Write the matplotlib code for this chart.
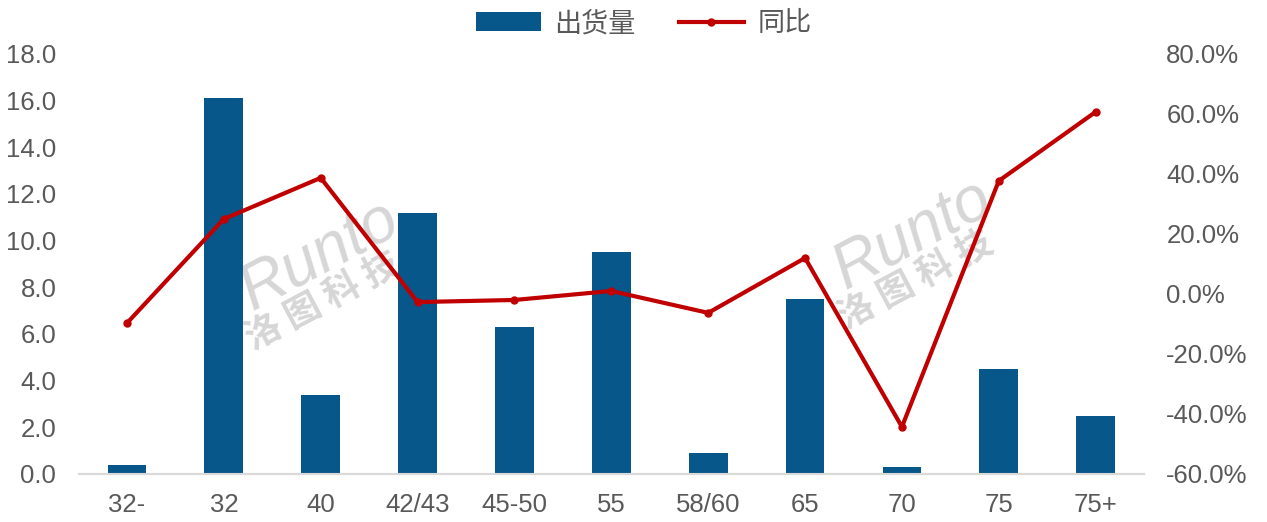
import matplotlib
matplotlib.use("Agg")
import matplotlib.pyplot as plt
import numpy as np

plt.rcParams['font.family'] = ['Liberation Sans', 'Noto Sans CJK SC', 'DejaVu Sans']

categories = ["32-", "32", "40", "42/43", "45-50", "55", "58/60", "65", "70", "75", "75+"]
shipments = [0.4, 16.1, 3.4, 11.2, 6.3, 9.5, 0.9, 7.5, 0.3, 4.5, 2.5]
yoy = [-9.7, 25.0, 38.7, -2.7, -2.0, 1.0, -6.3, 12.0, -44.3, 37.7, 60.7]

fig = plt.figure(figsize=(12.67, 5.22), dpi=100)
ax = fig.add_axes([0.062, 0.092, 0.841, 0.8046])
ax2 = ax.twinx()

x = np.arange(len(categories))
bars = ax.bar(x, shipments, width=0.4, color="#08578A", zorder=3, label="出货量")
line, = ax2.plot(x, yoy, color="#C00000", lw=3, marker="o", markersize=5, zorder=4, label="同比")

ax.set_xlim(-0.5, len(categories) - 0.5)
ax.set_ylim(0, 18)
ax.set_yticks(np.arange(0, 18.1, 2))
ax.set_yticklabels([f"{v:.1f}" for v in np.arange(0, 18.1, 2)])
ax2.set_ylim(-60, 80)
ax2.set_yticks(np.arange(-60, 81, 20))
ax2.set_yticklabels([f"{v:.1f}%" for v in np.arange(-60, 81, 20)])
ax.set_xticks(x)
ax.set_xticklabels(categories)

for a in (ax, ax2):
    for s in ("top", "left", "right"):
        a.spines[s].set_visible(False)
    a.spines["bottom"].set_color("#D9D9D9")
    a.spines["bottom"].set_linewidth(1.5)
    a.tick_params(length=0, labelsize=18.5, colors="#595959")
ax.tick_params(axis="x", pad=14)
ax.tick_params(axis="y", pad=16)
ax2.tick_params(axis="y", pad=16)

# watermarks
for (wx, wy) in [(0.252, 0.51), (0.72, 0.55)]:
    fig.text(wx, wy, "Runto", fontsize=46, color="#D6D6D6", rotation=28,
             ha="center", va="center", style="italic", zorder=0)
    fig.text(wx + 0.003, wy - 0.088, "洛 图 科 技", fontsize=26, color="#D6D6D6", rotation=28,
             ha="center", va="center", zorder=0, family=["Noto Sans CJK SC"], weight="bold")
ax.set_zorder(1)
ax.patch.set_visible(False)
ax2.set_zorder(2)

fig.legend(handles=[bars, line], labels=["出货量", "同比"], loc="upper center",
           bbox_to_anchor=(0.508, 1.025), ncol=2, frameon=False, fontsize=19.5,
           labelcolor="#595959", handlelength=2.4, columnspacing=1.6, handletextpad=0.5)

fig.savefig("out.png", dpi=100)
